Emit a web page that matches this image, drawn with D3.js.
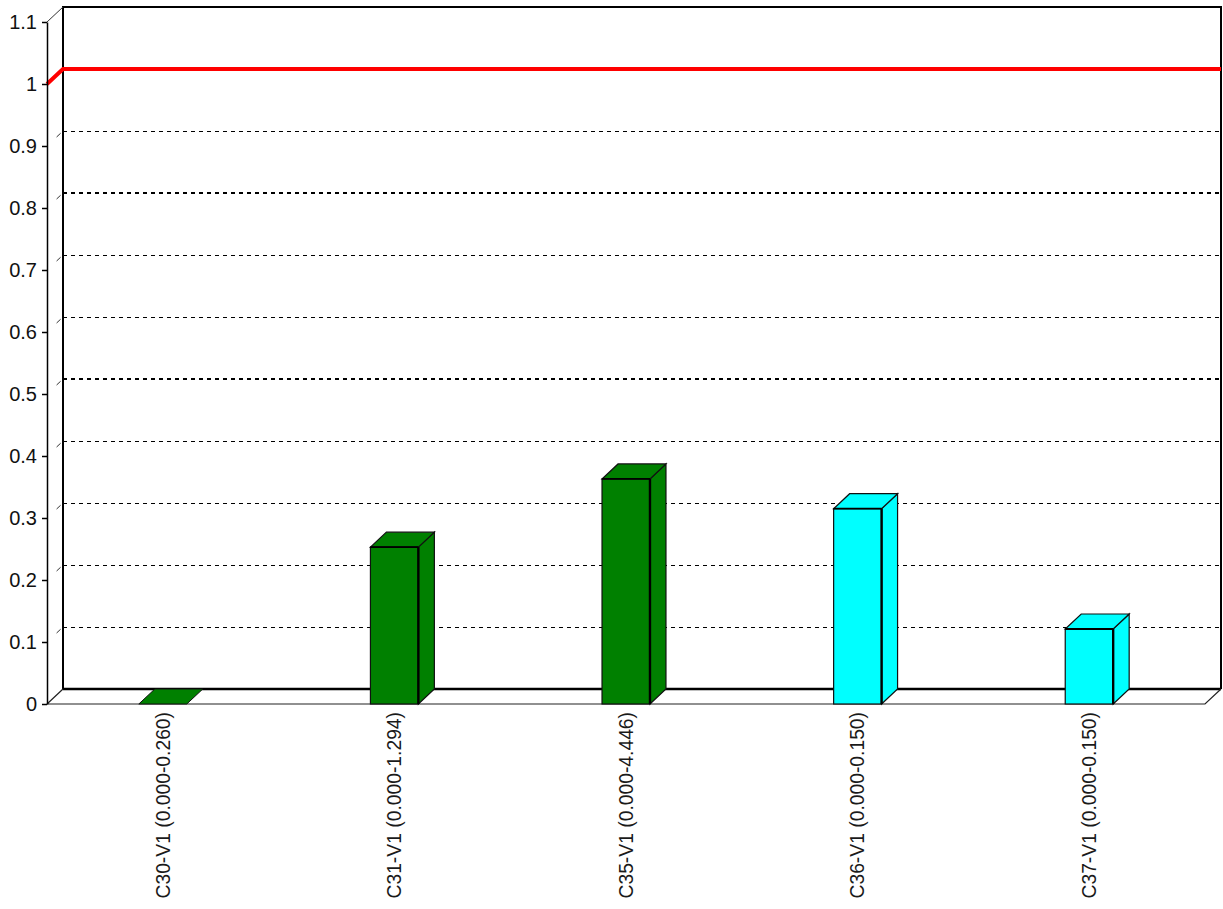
<!DOCTYPE html>
<html>
<head>
<meta charset="utf-8">
<script src="https://cdn.jsdelivr.net/npm/d3@7/dist/d3.min.js"></script>
<style>
  html, body { margin: 0; padding: 0; background: #fff; }
  svg { display: block; }
  text { font-family: "Liberation Sans", Arial, sans-serif; }
</style>
</head>
<body>
<svg id="chart" width="1223" height="909"></svg>
<script>
// ---- data ----
const categories = ["C30-V1 (0.000-0.260)", "C31-V1 (0.000-1.294)", "C35-V1 (0.000-4.446)", "C36-V1 (0.000-0.150)", "C37-V1 (0.000-0.150)"];
const values = [0, 0.253, 0.363, 0.315, 0.121];
const barColors = ["#008000", "#008000", "#008000", "#00ffff", "#00ffff"];
const yTicks = [0, 0.1, 0.2, 0.3, 0.4, 0.5, 0.6, 0.7, 0.8, 0.9, 1, 1.1];
const yTickLabels = ["0", "0.1", "0.2", "0.3", "0.4", "0.5", "0.6", "0.7", "0.8", "0.9", "1", "1.1"];
const gridValues = [0.1, 0.2, 0.3, 0.4, 0.5, 0.6, 0.7, 0.8, 0.9];
const boldGrid = [0.5, 0.8];
const limitValue = 1;

// ---- layout ----
const svg = d3.select("#chart");
const frontLeft = 47, frontRight = 1205;
const DX = 16, DY = 15;
const y = d3.scaleLinear().domain([0, 1.1]).range([704, 22]);
const x = d3.scalePoint().domain(categories).range([frontLeft, frontRight]).padding(0.5);
const barW = x.step() * 0.207;
const y0 = y(0);
const yTop = y(1.1);

// back wall gridlines
const g = svg.append("g");
gridValues.forEach(v => {
  const bold = boldGrid.includes(v);
  const yy = Math.round(y(v) - DY) + (bold ? 0 : 0.5);
  g.append("line")
    .attr("x1", frontLeft + DX).attr("x2", frontRight + DX)
    .attr("y1", yy).attr("y2", yy)
    .attr("stroke", "#000")
    .attr("stroke-width", bold ? 2 : 1)
    .attr("stroke-dasharray", "4,4")
    .attr("shape-rendering", "crispEdges");
  // side-wall diagonal dash
  g.append("line")
    .attr("x1", frontLeft + DX * 0.6).attr("y1", y(v) - DY * 0.6)
    .attr("x2", frontLeft + DX * 0.85).attr("y2", y(v) - DY * 0.85)
    .attr("stroke", "#333").attr("stroke-width", 1);
});

// back wall frame
g.append("path")
  .attr("d", `M${frontLeft + DX},${y0 - DY} L${frontLeft + DX},${yTop - DY} L${frontRight + DX},${yTop - DY} L${frontRight + DX},${y0 - DY}`)
  .attr("fill", "none").attr("stroke", "#000").attr("stroke-width", 2);
// top-left diagonal
g.append("line")
  .attr("x1", frontLeft).attr("y1", yTop).attr("x2", frontLeft + DX).attr("y2", yTop - DY)
  .attr("stroke", "#333").attr("stroke-width", 1);

// floor
g.append("line")
  .attr("x1", frontLeft + DX).attr("x2", frontRight + DX)
  .attr("y1", y0 - DY).attr("y2", y0 - DY)
  .attr("stroke", "#000").attr("stroke-width", 2.5);
g.append("path")
  .attr("d", `M${frontLeft},${y0} L${frontLeft + DX},${y0 - DY} M${frontLeft},${y0} L${frontRight},${y0} L${frontRight + DX},${y0 - DY}`)
  .attr("fill", "none").attr("stroke", "#222").attr("stroke-width", 1.2);

// limit line (red)
g.append("path")
  .attr("d", `M${frontLeft},${y(limitValue)} L${frontLeft + DX},${y(limitValue) - DY} L${frontRight + DX},${y(limitValue) - DY}`)
  .attr("fill", "none").attr("stroke", "#ff0000").attr("stroke-width", 4);

// bars
const bars = svg.append("g");
categories.forEach((c, i) => {
  const cx = x(c);
  const x0 = cx - barW / 2, x1 = cx + barW / 2;
  const yt = y(values[i]);
  const col = barColors[i];
  const bg = bars.append("g");
  if (values[i] > 0) {
    bg.append("path")
      .attr("d", `M${x1},${y0} L${x1 + DX},${y0 - DY} L${x1 + DX},${yt - DY} L${x1},${yt} Z`)
      .attr("fill", col).attr("stroke", "#111").attr("stroke-width", 1.2);
    bg.append("path")
      .attr("d", `M${x0},${yt} L${x0 + DX},${yt - DY} L${x1 + DX},${yt - DY} L${x1},${yt} Z`)
      .attr("fill", col).attr("stroke", "#111").attr("stroke-width", 1.2);
    bg.append("rect")
      .attr("x", x0).attr("y", yt).attr("width", barW).attr("height", y0 - yt)
      .attr("fill", col).attr("stroke", "#111").attr("stroke-width", 1.2);
    bg.append("line")
      .attr("x1", x1).attr("x2", x1).attr("y1", yt).attr("y2", y0)
      .attr("stroke", "#000").attr("stroke-width", 2.4);
    bg.append("line")
      .attr("x1", x0).attr("x2", x1).attr("y1", yt).attr("y2", yt)
      .attr("stroke", "#000").attr("stroke-width", 1.8);
  } else {
    bg.append("path")
      .attr("d", `M${x0},${y0} L${x0 + DX},${y0 - DY} L${x1 + DX},${y0 - DY} L${x1},${y0} Z`)
      .attr("fill", col).attr("stroke", "#111").attr("stroke-width", 1);
  }
});

// front y axis
const axis = d3.axisLeft(y)
  .tickValues(yTicks)
  .tickFormat((d, i) => yTickLabels[i])
  .tickSize(5).tickSizeOuter(0).tickPadding(5);
const ax = svg.append("g").attr("transform", `translate(${frontLeft},0)`).call(axis);
ax.select(".domain").attr("stroke", "#000").attr("stroke-width", 1.5);
ax.selectAll(".tick line").attr("stroke", "#000").attr("stroke-width", 1.5);
ax.selectAll(".tick text")
  .attr("font-size", 20).attr("fill", "#111")
  .attr("font-family", "'Liberation Sans', Arial, sans-serif");

// category labels
svg.append("g").selectAll("text")
  .data(categories).join("text")
  .attr("transform", d => `translate(${x(d)},712) rotate(-90)`)
  .attr("text-anchor", "end")
  .attr("dy", "0.35em")
  .attr("font-size", 19.3)
  .attr("fill", "#1a1a1a")
  .text(d => d);
</script>
</body>
</html>
